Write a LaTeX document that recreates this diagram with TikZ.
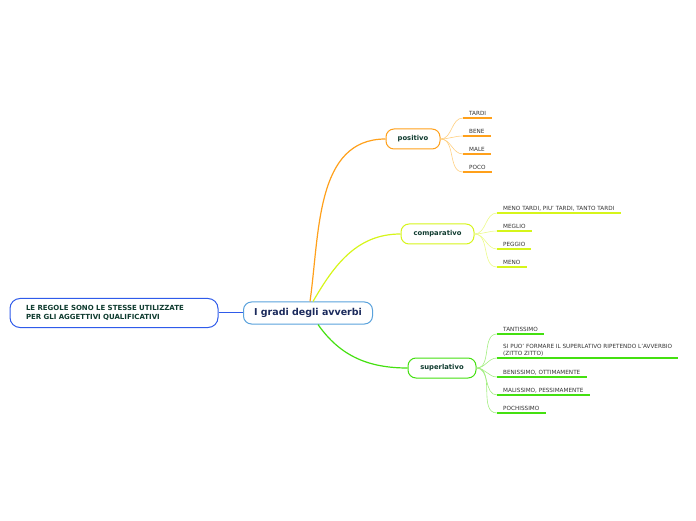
\documentclass[tikz,border=0pt]{standalone}
\usepackage{fontspec}
\setmainfont{DejaVu Sans}
\definecolor{MapNavy}{HTML}{1B2A5C}
\definecolor{MapGreenText}{HTML}{0F3B2F}
\definecolor{MapLeafText}{HTML}{333333}
\definecolor{MapCentral}{HTML}{5AA2DC}
\definecolor{MapRules}{HTML}{2F5BEA}
\definecolor{MapOrange}{HTML}{FFA01A}
\definecolor{MapOrangeLight}{HTML}{FFCF80}
\definecolor{MapLime}{HTML}{D6F51A}
\definecolor{MapLimeLight}{HTML}{ECFB8A}
\definecolor{MapGreen}{HTML}{44E010}
\definecolor{MapGreenLight}{HTML}{A2EE80}
\usepackage{tikz}
\usetikzlibrary{positioning,calc}
\tikzset{
    % Base node style
    basenode/.style={
        draw,
        fill=white,
        line width=1pt,
        rounded corners=8pt,
        align=center,
        inner sep=0pt
    },
    % Central topic
    centralnode/.style={
        basenode,
        draw=MapCentral,
        text=MapNavy,
        minimum width=129pt,
        minimum height=22pt,
        font=\fontsize{9.5}{11}\selectfont\bfseries
    },
    % Floating note
    notenode/.style={
        basenode,
        draw=MapRules,
        text=MapGreenText,
        rounded corners=10pt,
        text width=176pt,
        inner xsep=16pt,
        minimum height=29pt,
        align=left,
        font=\fontsize{7}{8.5}\selectfont\bfseries
    },
    % Main topic
    topicnode/.style={
        basenode,
        text=MapGreenText,
        minimum height=20pt,
        font=\fontsize{6.8}{8}\selectfont\bfseries
    },
    % Underlined leaf
    leafnode/.style={
        anchor=south west,
        inner xsep=6pt,
        inner ysep=2pt,
        align=left,
        text=MapLeafText,
        font=\fontsize{5.7}{7}\selectfont
    },
    % Branch from the central topic
    mainbranch/.style={
        line width=1.2pt
    },
    % Branch to a leaf
    leafbranch/.style={
        line width=0.6pt
    },
    % Line under a leaf
    underline/.style={
        line width=1.5pt
    }
}

\begin{document}
\begin{tikzpicture}[x=1pt, y=1pt]
    \useasboundingbox (0,0) rectangle (696,520);

    \node[centralnode] (main) at (308,207) {I gradi degli avverbi};
    \node[notenode] (rules) at (114,207) {LE REGOLE SONO LE STESSE UTILIZZATE\\PER GLI AGGETTIVI QUALIFICATIVI};

    \node[topicnode, draw=MapOrange, minimum width=54pt] (positivo) at (413,381) {positivo};
    \node[topicnode, draw=MapLime, minimum width=73pt] (comparativo) at (437.5,286) {comparativo};
    \node[topicnode, draw=MapGreen, minimum width=68pt] (superlativo) at (442,152) {superlativo};

    \draw[MapRules, line width=1pt] (rules.east) -- (main.west);
    \draw[mainbranch, MapOrange] ([xshift=2pt]main.north) to[out=82, in=180] (positivo.west);
    \draw[mainbranch, MapLime] ([xshift=5pt]main.north) to[out=60, in=180] (comparativo.west);
    \draw[mainbranch, MapGreen] ([xshift=10pt]main.south) to[out=-55, in=180] (superlativo.west);

    % positivo
    \node[leafnode] (pos1) at (463,402) {TARDI};
    \node[leafnode] (pos2) at (463,384) {BENE};
    \node[leafnode] (pos3) at (463,366) {MALE};
    \node[leafnode] (pos4) at (463,348) {POCO};
    \foreach \leaf in {pos1,pos2,pos3,pos4} {
        \draw[leafbranch, MapOrangeLight] (positivo.east) to[out=0, in=180] (\leaf.south west);
        \draw[underline, MapOrange] (\leaf.south west) -- (\leaf.south east);
    }

    % comparativo
    \node[leafnode] (comp1) at (497,307) {MENO TARDI, PIU' TARDI, TANTO TARDI};
    \node[leafnode] (comp2) at (497,289) {MEGLIO};
    \node[leafnode] (comp3) at (497,271) {PEGGIO};
    \node[leafnode] (comp4) at (497,253) {MENO};
    \foreach \leaf in {comp1,comp2,comp3,comp4} {
        \draw[leafbranch, MapLimeLight] (comparativo.east) to[out=0, in=180] (\leaf.south west);
        \draw[underline, MapLime] (\leaf.south west) -- (\leaf.south east);
    }

    % superlativo
    \node[leafnode] (sup1) at (497,186) {TANTISSIMO};
    \node[leafnode] (sup2) at (497,162) {SI PUO' FORMARE IL SUPERLATIVO RIPETENDO L'AVVERBIO\\(ZITTO ZITTO)};
    \node[leafnode] (sup3) at (497,143) {BENISSIMO, OTTIMAMENTE};
    \node[leafnode] (sup4) at (497,125) {MALISSIMO, PESSIMAMENTE};
    \node[leafnode] (sup5) at (497,107) {POCHISSIMO};
    \foreach \leaf in {sup1,sup2,sup3,sup4,sup5} {
        \draw[leafbranch, MapGreenLight] (superlativo.east) to[out=0, in=180] (\leaf.south west);
        \draw[underline, MapGreen] (\leaf.south west) -- (\leaf.south east);
    }
\end{tikzpicture}
\end{document}
